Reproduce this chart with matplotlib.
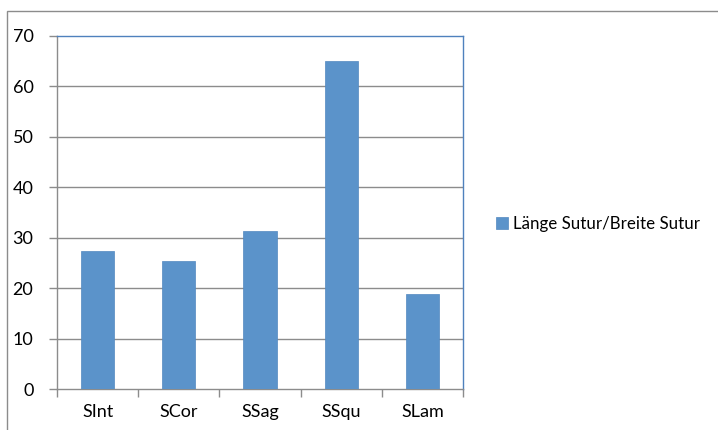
import matplotlib
matplotlib.use("Agg")
import matplotlib.pyplot as plt
from matplotlib.patches import Rectangle

categories = ["SInt", "SCor", "SSag", "SSqu", "SLam"]
values = [27.4, 25.4, 31.4, 65.0, 18.8]
series_name = "Länge Sutur/Breite Sutur"
y_ticks = [0, 10, 20, 30, 40, 50, 60, 70]

plt.rcParams["font.family"] = ["Lato", "DejaVu Sans"]

fig = plt.figure(figsize=(7.18, 4.30), dpi=100)
fig.patch.set_facecolor("white")

# outer chart frame
fig.add_artist(Rectangle((7 / 718, -0.1), 1.2, 1 - 11 / 430 + 0.1,
                         transform=fig.transFigure, fill=False,
                         edgecolor="#8c8c8c", linewidth=1.0))

ax = fig.add_axes([57 / 718, 1 - 389 / 430, (463 - 57) / 718, (389 - 36) / 430])

bar_color = "#5B93CA"
x = list(range(len(categories)))
ax.bar(x, values, width=0.41, color=bar_color, edgecolor="#5288c0",
       linewidth=0.5, zorder=3, label=series_name)

ax.set_xlim(-0.5, len(categories) - 0.5)
ax.set_ylim(0, 70)
ax.set_yticks(y_ticks)
ax.set_yticklabels([str(t) for t in y_ticks])

# gridlines
for t in y_ticks[1:-1]:
    ax.axhline(t, color="#8c8c8c", linewidth=1.0, zorder=1)

# category tick marks at boundaries
ax.set_xticks([i - 0.5 for i in range(len(categories) + 1)], minor=False)
ax.set_xticklabels([""] * (len(categories) + 1))
ax.set_xticks(x, minor=True)
ax.set_xticklabels(categories, minor=True)
ax.tick_params(axis="x", which="major", length=6, color="#8c8c8c", width=1.0)
ax.tick_params(axis="x", which="minor", length=0, pad=11, labelsize=13)
ax.tick_params(axis="y", length=6, color="#8c8c8c", width=1.0, pad=11, labelsize=13)

for side in ["left", "bottom"]:
    ax.spines[side].set_color("#8c8c8c")
    ax.spines[side].set_linewidth(1.0)
ax.spines["top"].set_color("#4F81BD")
ax.spines["right"].set_color("#4F81BD")
ax.spines["top"].set_linewidth(1.0)
ax.spines["right"].set_linewidth(1.0)

leg = fig.legend(loc="center left", bbox_to_anchor=(489 / 718, 1 - 224 / 430),
                 frameon=False, fontsize=12.2, handlelength=0.7, handleheight=0.7,
                 handletextpad=0.3, borderaxespad=0)

fig.savefig("out.png", dpi=100)
